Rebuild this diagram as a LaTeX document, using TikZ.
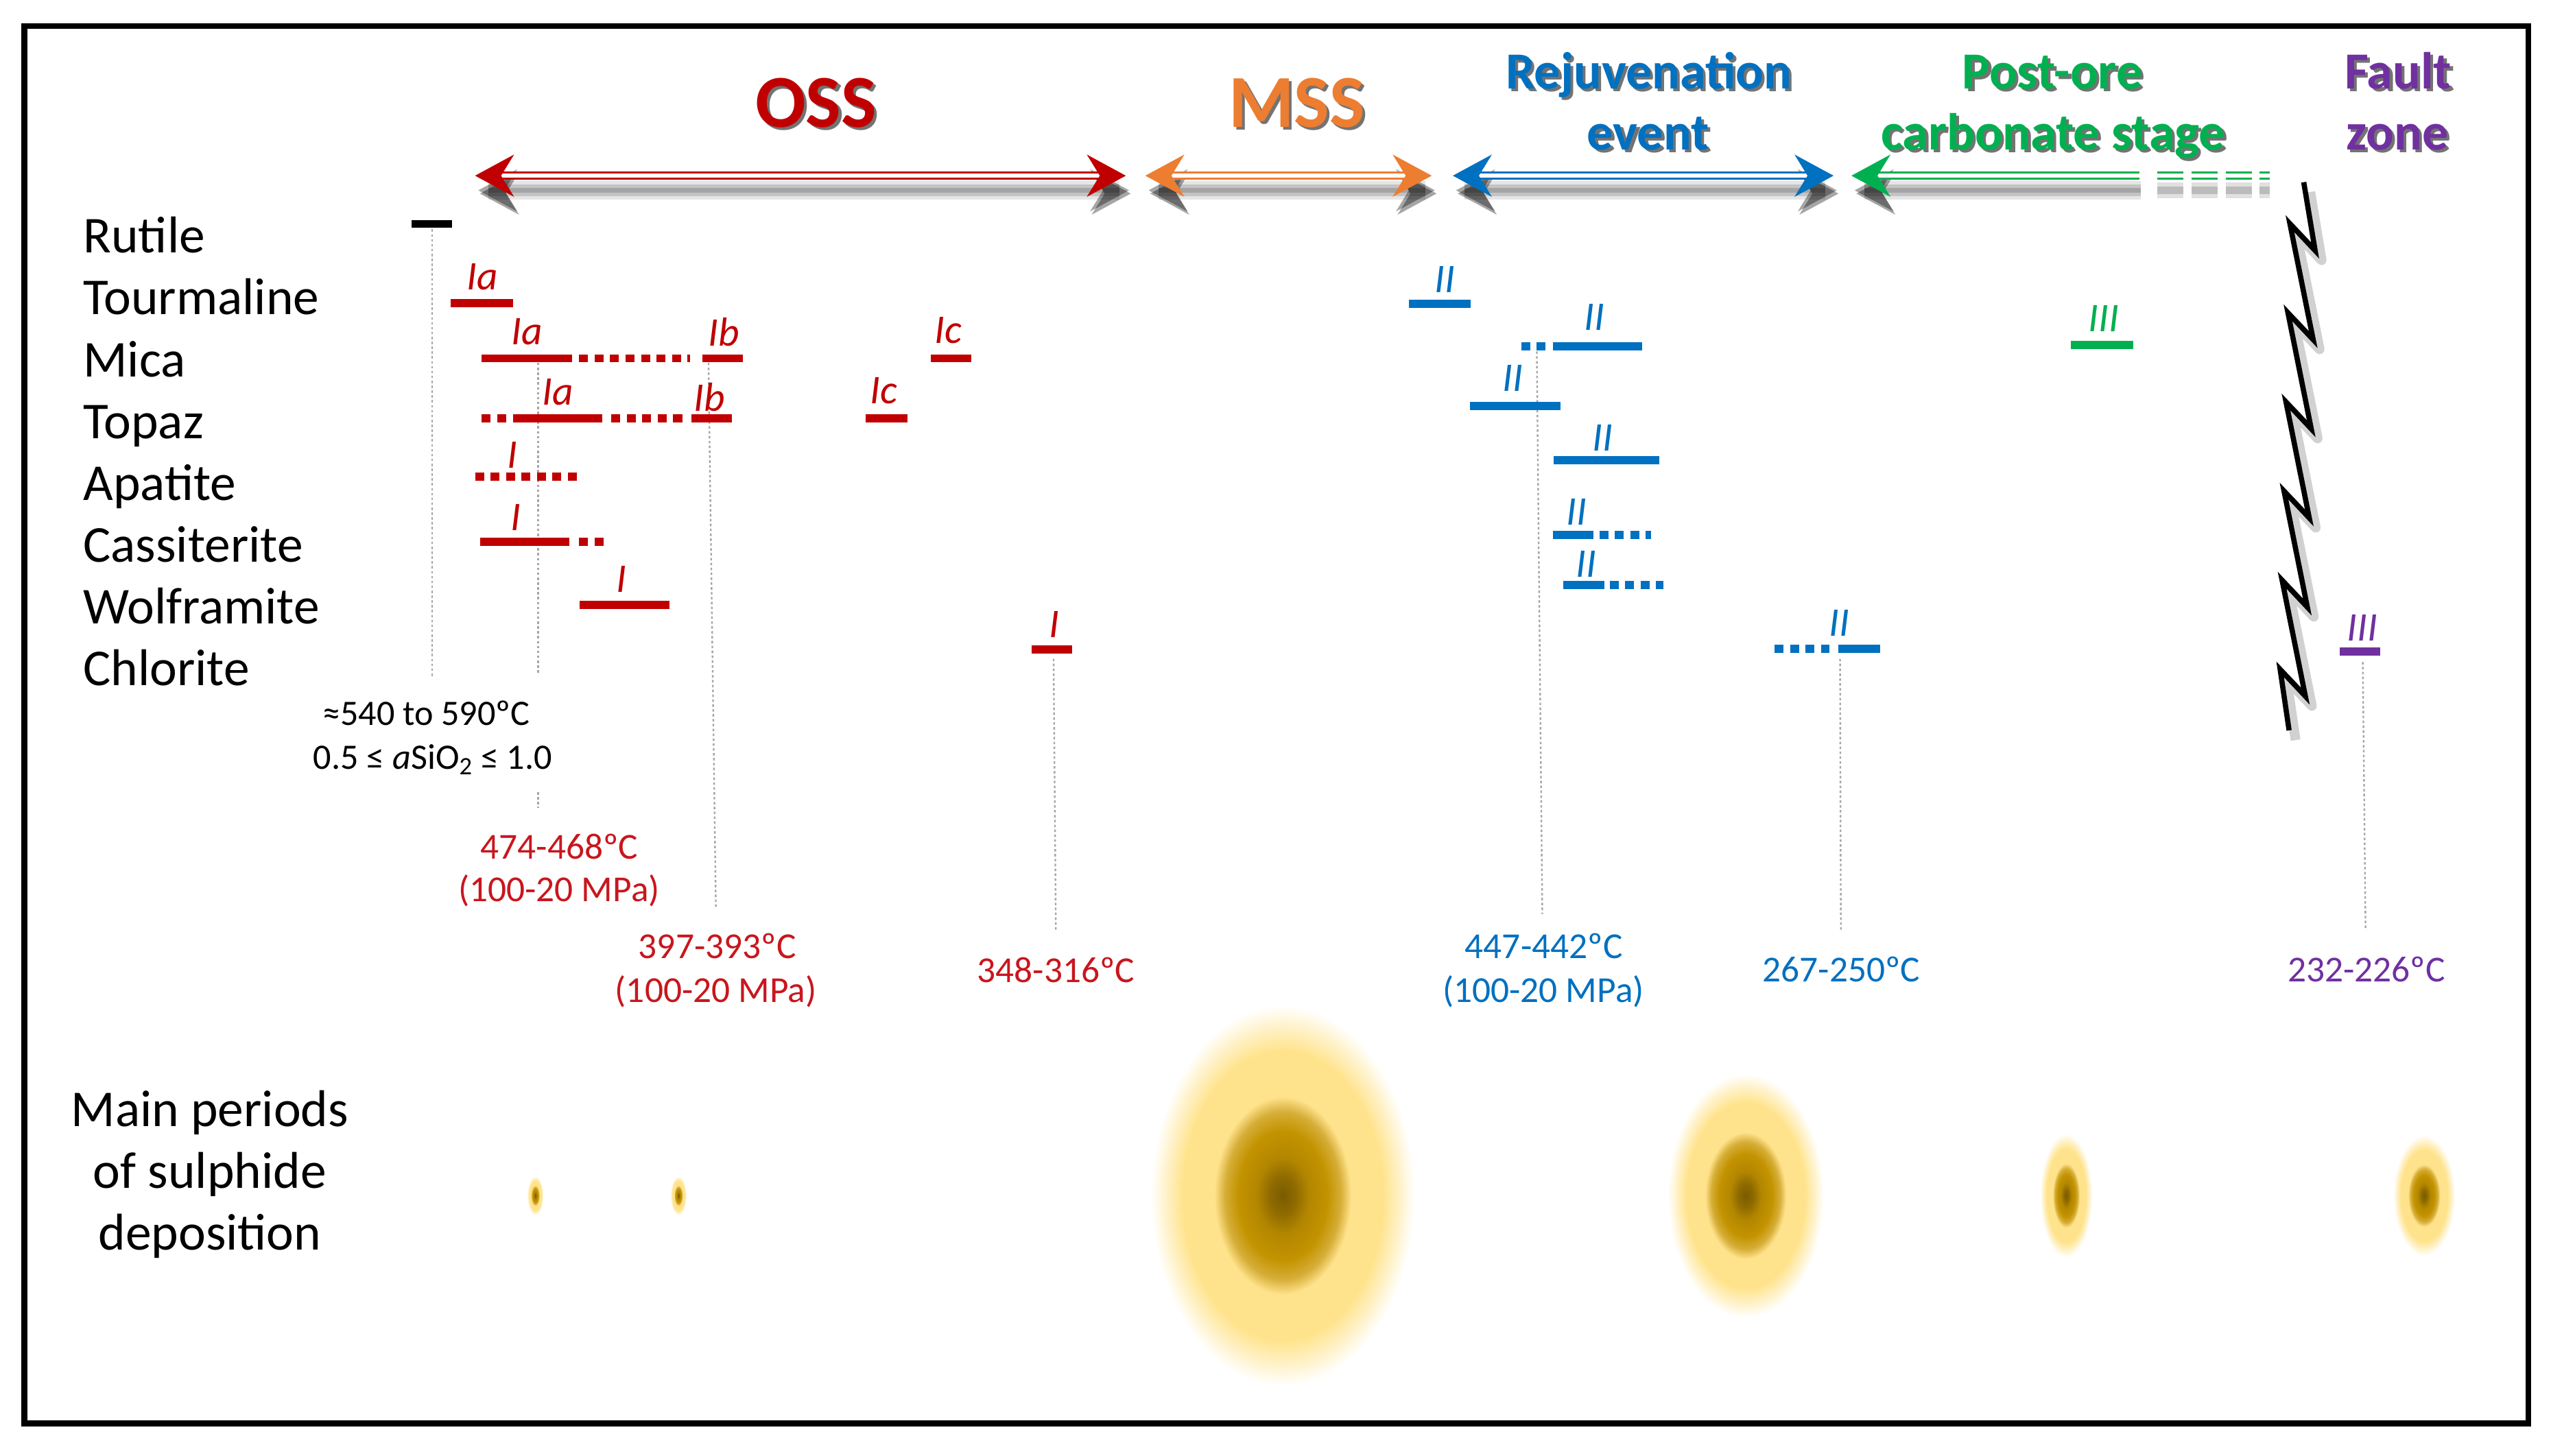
\documentclass[tikz,border=0pt]{standalone}
\usepackage{fontspec}
\setmainfont{Carlito}
\usetikzlibrary{calc}
\definecolor{cRed}{HTML}{C00000}
\definecolor{cTRed}{HTML}{C8161E}
\definecolor{cBlue}{HTML}{0070C0}
\definecolor{cGreen}{HTML}{00B050}
\definecolor{cPurple}{HTML}{7030A0}
\definecolor{cOrange}{HTML}{ED7D31}
\definecolor{dotgray}{HTML}{A6A6A6}
\definecolor{bA}{HTML}{7A5B00}
\definecolor{bB}{HTML}{8F6B00}
\definecolor{bC}{HTML}{B38600}
\definecolor{bD}{HTML}{C39300}
\definecolor{bE}{HTML}{D6AE38}
\definecolor{bF}{HTML}{FFE38C}
\pgfdeclareradialshading{blob}{\pgfpoint{0bp}{0bp}}{color(0bp)=(bA); color(2.5bp)=(bB); color(5bp)=(bC); color(8.5bp)=(bD); color(11bp)=(bE); color(13bp)=(bF); color(19bp)=(bF); color(25bp)=(white); color(50bp)=(white)}
\newcommand\arrband[3]{%
  \draw[black,opacity=.10,line width=11pt] (#1,#3) -- (#2,#3);
  \draw[black,opacity=.14,line width=7pt] (#1,#3) -- (#2,#3);
  \draw[black,opacity=.16,line width=3pt] (#1,#3) -- (#2,#3);}
\newcommand\tipshadow[3]{%
  \fill[black,opacity=.35] ({#1+2},{#2+9}) -- ++({#3*24},-13) -- ++({#3*(-8)},13) -- ++({#3*8},13) -- cycle;
  \fill[black,opacity=.35] ({#1+3},{#2+11}) -- ++({#3*24},-13) -- ++({#3*(-8)},13) -- ++({#3*8},13) -- cycle;}
\newcommand\arrtip[4]{%
  \fill[#4] (#1,#2) -- ++({#3*24},-13) -- ++({#3*(-8)},13) -- ++({#3*8},13) -- cycle;}
\newcommand\ttl[6]{%
  \node[anchor=base,inner sep=0pt,font=\fontsize{#4}{#4}\bfseries\selectfont,text=black,opacity=.55] (#1s) at ({#2+1.8},{#3+1.8}) {#6};
  \node[anchor=base,inner sep=0pt,font=\fontsize{#4}{#4}\bfseries\selectfont,text=#5] (#1) at (#2,#3) {#6};}
\begin{document}
\begin{tikzpicture}[x=1pt,y=-1pt,
  mineral/.style={anchor=base west,inner sep=0pt,font=\fontsize{31.8}{36}\selectfont},
  mainlbl/.style={anchor=base,inner sep=0pt,font=\fontsize{31.8}{36}\selectfont},
  stage/.style={inner sep=0pt,font=\fontsize{25}{30}\itshape\selectfont},
  temp/.style={anchor=base,inner sep=0pt,font=\fontsize{22.5}{27}\selectfont},
  note/.style={anchor=base,inner sep=0pt,font=\fontsize{22}{26}\selectfont},
  bar/.style={line width=5pt},
  dbar/.style={line width=5pt,dash pattern=on 5.5pt off 4pt},
  guide/.style={dotgray,line width=1pt,dash pattern=on 1.5pt off 1.5pt},
  dline/.style={line width=1.2pt,double=white,double distance=2.4pt}]
\useasboundingbox (0,0) rectangle (1568,894.7);
\fill[white] (0,0) rectangle (1568,894.7);
% frame
\draw[line width=3.5pt] (15,16) rectangle (1554,875);

% titles
\ttl{oss}{501.5}{78}{46}{cRed}{OSS}
\ttl{mss}{797}{78}{46}{cOrange}{MSS}
\ttl{rej}{1013.4}{54.6}{32}{cBlue}{Rejuvenation}
\ttl{evt}{1013}{92}{32}{cBlue}{event}
\ttl{post}{1261.5}{54.6}{32}{cGreen}{Post-ore}
\ttl{carb}{1262}{92}{32}{cGreen}{carbonate stage}
\ttl{fault}{1474}{54.6}{32}{cPurple}{Fault}
\ttl{zone}{1473.5}{92}{32}{cPurple}{zone}

% arrow shadows
\arrband{300}{688}{117}
\arrband{712}{876}{117}
\arrband{900}{1122}{117}
\arrband{1146}{1316}{117}
\begin{scope}[dash pattern=on 16pt off 5pt]
\draw[black,opacity=.12,line width=10pt] (1326,117) -- (1395,117);
\draw[black,opacity=.16,line width=5pt] (1326,117) -- (1395,117);
\end{scope}
\tipshadow{292}{108}{1}
\tipshadow{692}{108}{-1}
\tipshadow{704}{108}{1}
\tipshadow{880}{108}{-1}
\tipshadow{893}{108}{1}
\tipshadow{1127}{108}{-1}
\tipshadow{1138}{108}{1}
% arrow lines
\draw[dline,cRed] (306,108) -- (678,108);
\draw[dline,cOrange] (718,108) -- (866,108);
\draw[dline,cBlue] (907,108) -- (1113,108);
\draw[dline,cGreen] (1152,108) -- (1315,108);
\draw[dline,cGreen,dash pattern=on 16pt off 5pt] (1326,108) -- (1395,108);
% arrow heads
\arrtip{292}{108}{1}{cRed}
\arrtip{692}{108}{-1}{cRed}
\arrtip{704}{108}{1}{cOrange}
\arrtip{880}{108}{-1}{cOrange}
\arrtip{893}{108}{1}{cBlue}
\arrtip{1127}{108}{-1}{cBlue}
\arrtip{1138}{108}{1}{cGreen}

% fault zigzag
\def\zz{(1416,112) -- (1423,154) -- (1407.5,137.5) -- (1421.8,208.8) -- (1406.3,192.3) -- (1420.6,263.6) -- (1405.1,247.1) -- (1419.4,318.4) -- (1403.9,301.9) -- (1418.2,373.2) -- (1402.7,356.7) -- (1417,428) -- (1401.5,411.5) -- (1407,449)}
\draw[black,opacity=.18,line width=6pt,line join=round,shift={(4,6)}] \zz;
\draw[black,line width=3.2pt,line join=miter] \zz;

% mineral names
\node[mineral] (rut) at (51,155.5) {Rutile};
\node[mineral] (tou) at (51,193.5) {Tourmaline};
\node[mineral] (mic) at (51,231.5) {Mica};
\node[mineral] (top) at (51,269.5) {Topaz};
\node[mineral] (apa) at (51,307.5) {Apatite};
\node[mineral] (cas) at (51,345.5) {Cassiterite};
\node[mineral] (wol) at (51,383.5) {Wolframite};
\node[mineral] (chl) at (51,421.5) {Chlorite};

% guides
\draw[guide] (265.5,141) -- (265.5,415.7);
\draw[guide] (330.7,223) -- (330.7,414.5);
\draw[guide] (330.7,487) -- (330.7,496.6);
\draw[guide] (435.5,223) -- (440,558);
\draw[guide] (647.6,405) -- (649,573);
\draw[guide] (944.6,216) -- (948,562);
\draw[guide] (1131,405) -- (1131.5,572);
\draw[guide] (1452.3,407) -- (1454,572);

% rutile
\draw[line width=4.5pt] (253,137.6) -- (278,137.6);
% red stage I
\draw[bar,cRed] (277,186.3) -- (315.5,186.3);
\draw[bar,cRed] (296,220.3) -- (351.6,220.3);
\draw[dbar,cRed] (356,220.3) -- (424,220.3);
\draw[bar,cRed] (431.6,220.3) -- (456.4,220.3);
\draw[bar,cRed] (572.3,220.3) -- (596.8,220.3);
\draw[dbar,cRed] (296,257) -- (311,257);
\draw[bar,cRed] (315.5,257) -- (370.3,257);
\draw[dbar,cRed] (375.8,257) -- (421,257);
\draw[bar,cRed] (425,257) -- (450,257);
\draw[bar,cRed] (532,257) -- (557.7,257);
\draw[dbar,cRed] (292,293) -- (356.4,293);
\draw[bar,cRed] (295,333) -- (350,333);
\draw[dbar,cRed] (356,333) -- (373.5,333);
\draw[bar,cRed] (356.4,372) -- (411.3,372);
\draw[bar,cRed] (634,399.3) -- (659,399.3);
\node[stage,text=cRed] (s1) at (296.5,170) {Ia};
\node[stage,text=cRed] (s2) at (324,204) {Ia};
\node[stage,text=cRed] (s3) at (445,204) {Ib};
\node[stage,text=cRed] (s4) at (583,203) {Ic};
\node[stage,text=cRed] (s5) at (343,241) {Ia};
\node[stage,text=cRed] (s6) at (436,244) {Ib};
\node[stage,text=cRed] (s7) at (543,240) {Ic};
\node[stage,text=cRed] (s8) at (315,279.6) {I};
\node[stage,text=cRed] (s9) at (317,318) {I};
\node[stage,text=cRed] (s10) at (382,356) {I};
\node[stage,text=cRed] (s11) at (648,384) {I};
% blue stage II
\draw[bar,cBlue] (866,186.6) -- (904,186.6);
\draw[dbar,cBlue] (935,213) -- (950,213);
\draw[bar,cBlue] (954.5,213) -- (1009.3,213);
\draw[bar,cBlue] (903.5,249.5) -- (959.3,249.5);
\draw[bar,cBlue] (955,283) -- (1020,283);
\draw[bar,cBlue] (954.5,329) -- (979.6,329);
\draw[dbar,cBlue] (983,329) -- (1015,329);
\draw[bar,cBlue] (961,359.7) -- (986,359.7);
\draw[dbar,cBlue] (989.4,359.7) -- (1022.6,359.7);
\draw[dbar,cBlue] (1090.7,398.7) -- (1124.4,398.7);
\draw[bar,cBlue] (1130,398.7) -- (1155.6,398.7);
\node[stage,text=cBlue] (b1) at (888,172) {II};
\node[stage,text=cBlue] (b2) at (980,195) {II};
\node[stage,text=cBlue] (b3) at (930,232.5) {II};
\node[stage,text=cBlue] (b4) at (985,269) {II};
\node[stage,text=cBlue] (b5) at (969,314.7) {II};
\node[stage,text=cBlue] (b6) at (975,346.7) {II};
\node[stage,text=cBlue] (b7) at (1130.5,383) {II};
% green / purple
\draw[bar,cGreen] (1273,212) -- (1311.4,212);
\node[stage,text=cGreen] (g1) at (1293,195.7) {III};
\draw[bar,cPurple] (1438,400.4) -- (1463,400.4);
\node[stage,text=cPurple] (p1) at (1452,386) {III};

% notes and temperatures
\node[note] (n1) at (262,446) {≈540 to 590ºC};
\node[note] (n2) at (266,473) {0.5 ≤ \textit{a}SiO\textsubscript{2} ≤ 1.0};
\node[temp,text=cTRed] (t1) at (343.8,528) {474-468ºC};
\node[temp,text=cTRed] (t1b) at (343.6,554) {(100-20 MPa)};
\node[temp,text=cTRed] (t2) at (440.9,589.4) {397-393ºC};
\node[temp,text=cTRed] (t2b) at (440,616) {(100-20 MPa)};
\node[temp,text=cTRed] (t3) at (649,603.8) {348-316ºC};
\node[temp,text=cBlue] (t4) at (948.9,589) {447-442ºC};
\node[temp,text=cBlue] (t4b) at (948.6,616) {(100-20 MPa)};
\node[temp,text=cBlue] (t5) at (1131.8,603.5) {267-250ºC};
\node[temp,text=cPurple] (t6) at (1454.5,603.5) {232-226ºC};

% sulphide deposition
\node[mainlbl] (m1) at (129,692.7) {Main periods};
\node[mainlbl] (m2) at (129,730.6) {of sulphide};
\node[mainlbl] (m3) at (129,768.5) {deposition};
\shade[shading=blob] (329,735) ellipse [x radius=5pt, y radius=12pt];
\shade[shading=blob] (417,735) ellipse [x radius=5pt, y radius=12pt];
\shade[shading=blob] (788.5,735) ellipse [x radius=81pt, y radius=117pt];
\shade[shading=blob] (1073,735) ellipse [x radius=48pt, y radius=75pt];
\shade[shading=blob] (1270,735) ellipse [x radius=16pt, y radius=38pt];
\shade[shading=blob] (1490,735) ellipse [x radius=19pt, y radius=37pt];
\end{tikzpicture}
\end{document}
